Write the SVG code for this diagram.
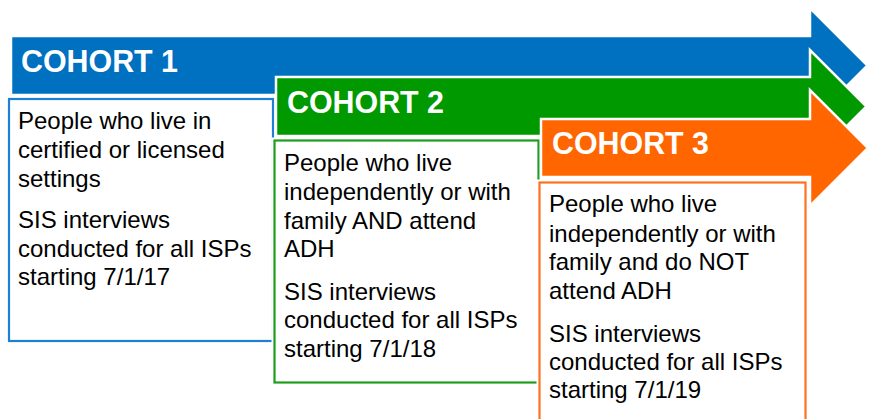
<svg xmlns="http://www.w3.org/2000/svg" width="872" height="419" viewBox="0 0 872 419">
<style>
.arrow{stroke:#fff;stroke-width:2.5;stroke-linejoin:miter}
.title{font-family:"Liberation Sans",Arial,sans-serif;font-weight:bold;font-size:32px;fill:#fff}
.body{font-family:"Liberation Sans",Arial,sans-serif;font-size:24px;fill:#000}
.halo{fill:#fff;stroke:#fff;stroke-width:6}
.box{fill:#fff;stroke-width:2.2}
</style>
<rect width="872" height="419" fill="#fff"/>
<g id="cohort1">
<path class="arrow" fill="#0070C0" d="M11,36 H810 V8 L867.5,65.5 L810,123 V95 H11 Z"/>
<text class="title" x="21" y="72" textLength="157" lengthAdjust="spacingAndGlyphs">COHORT 1</text>
<rect class="halo" x="9" y="99" width="264" height="242"/>
<rect class="box" stroke="#1F7FD0" x="9" y="99" width="264" height="242"/>
<text class="body" x="18" y="129">People who live in</text>
<text class="body" x="18" y="158">certified or licensed</text>
<text class="body" x="18" y="187">settings</text>
<text class="body" x="18" y="228">SIS interviews</text>
<text class="body" x="18" y="257">conducted for all ISPs</text>
<text class="body" x="18" y="285">starting 7/1/17</text>
</g>
<g id="cohort2">
<path class="arrow" fill="#009900" d="M276,77 H810 V50 L866.5,106.5 L810,163 V136 H276 Z"/>
<text class="title" x="287" y="113" textLength="157" lengthAdjust="spacingAndGlyphs">COHORT 2</text>
<rect class="halo" x="274.5" y="140.5" width="264" height="242"/>
<rect class="box" stroke="#1E9E1E" x="274.5" y="140.5" width="264" height="242"/>
<text class="body" x="284" y="171">People who live</text>
<text class="body" x="284" y="200">independently or with</text>
<text class="body" x="284" y="229">family AND attend</text>
<text class="body" x="284" y="257">ADH</text>
<text class="body" x="284" y="300">SIS interviews</text>
<text class="body" x="284" y="328">conducted for all ISPs</text>
<text class="body" x="284" y="357">starting 7/1/18</text>
</g>
<g id="cohort3">
<path class="arrow" fill="#FF6600" d="M541,119 H810 V90 L868,148 L810,206 V177 H541 Z"/>
<text class="title" x="552" y="154" textLength="157" lengthAdjust="spacingAndGlyphs">COHORT 3</text>
<rect class="halo" x="539.5" y="182.5" width="266" height="250"/>
<rect class="box" stroke="#FF7020" x="539.5" y="182.5" width="266" height="250"/>
<text class="body" x="549" y="212">People who live</text>
<text class="body" x="549" y="242">independently or with</text>
<text class="body" x="549" y="270">family and do NOT</text>
<text class="body" x="549" y="299">attend ADH</text>
<text class="body" x="549" y="342">SIS interviews</text>
<text class="body" x="549" y="370">conducted for all ISPs</text>
<text class="body" x="549" y="398">starting 7/1/19</text>
</g>
<g id="connectors"></g>
</svg>
